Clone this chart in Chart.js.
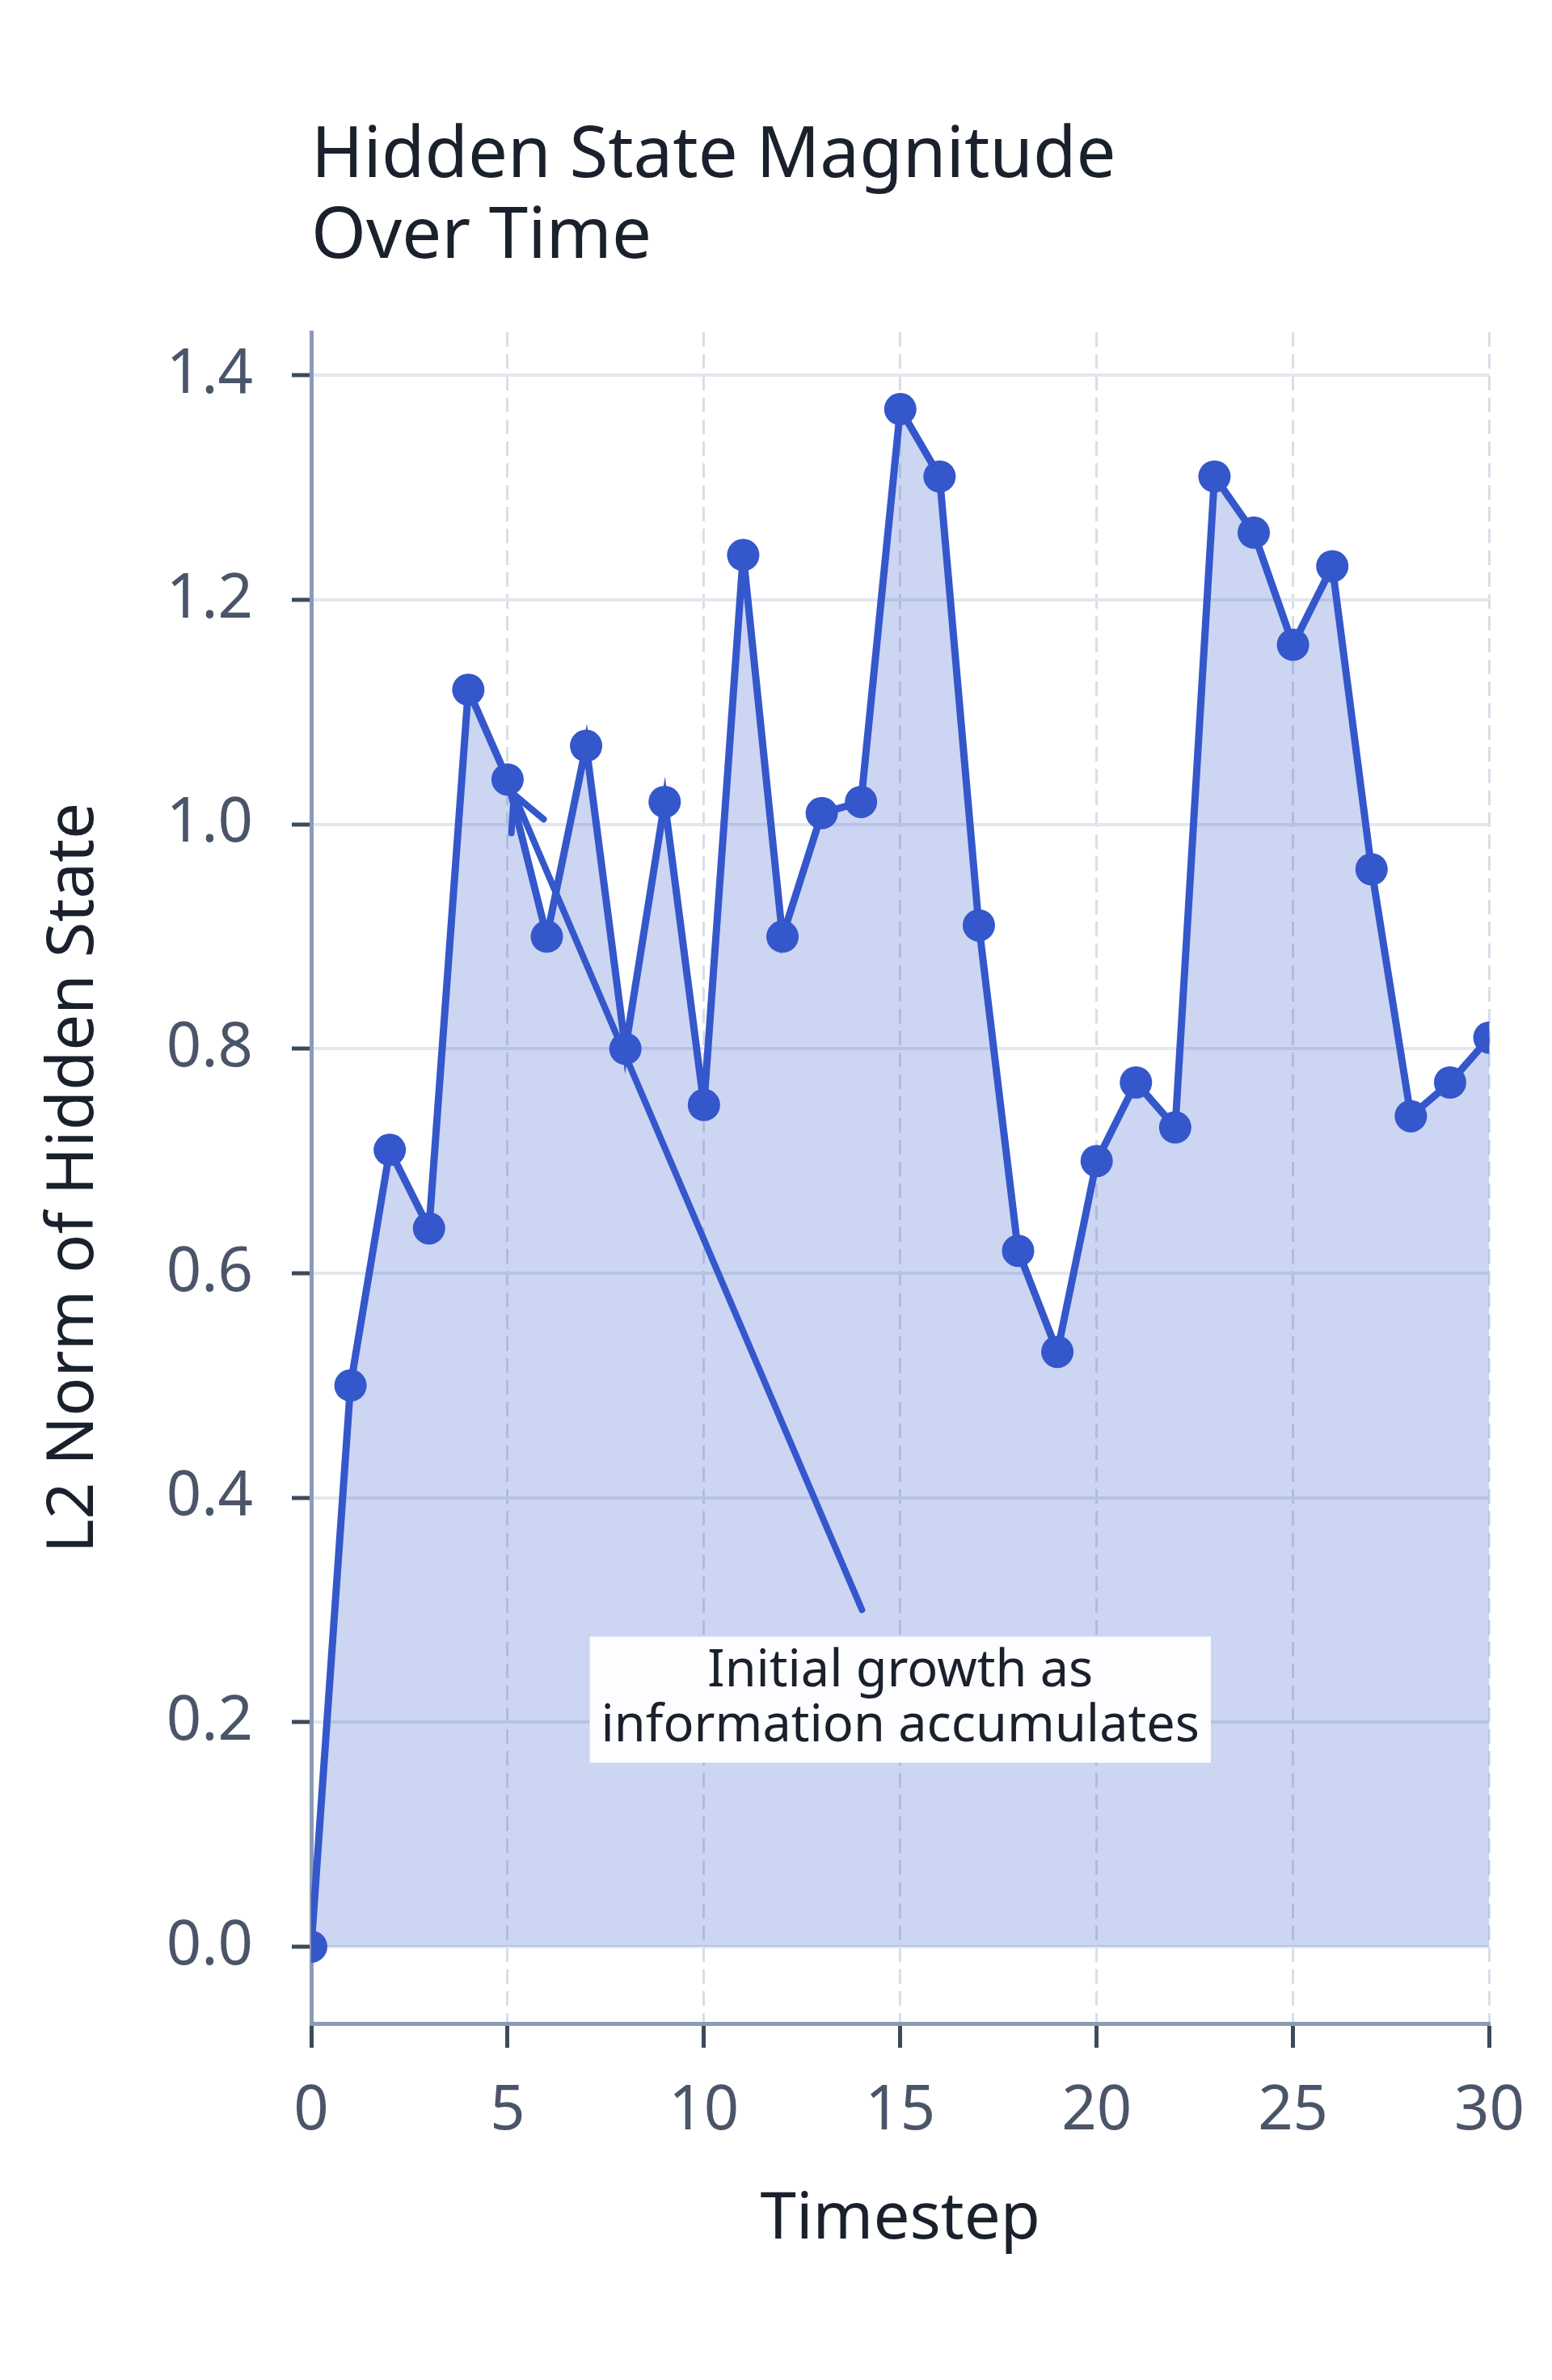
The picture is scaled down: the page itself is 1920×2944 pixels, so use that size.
<!DOCTYPE html>
<html>
<head>
<meta charset="utf-8">
<script src="https://cdn.jsdelivr.net/npm/chart.js@4.4.1/dist/chart.umd.min.js"></script>
<style>
  html, body { margin: 0; padding: 0; background: #ffffff; }
</style>
</head>
<body>
<canvas id="myChart" width="1920" height="2944"></canvas>
<script>
const timesteps = [0, 1, 2, 3, 4, 5, 6, 7, 8, 9, 10, 11, 12, 13, 14, 15, 16, 17, 18, 19, 20, 21, 22, 23, 24, 25, 26, 27, 28, 29, 30];
const hiddenNorm = [0.00, 0.50, 0.71, 0.64, 1.12, 1.04, 0.90, 1.07, 0.80, 1.02, 0.75, 1.24, 0.90, 1.01, 1.02,
                    1.37, 1.31, 0.91, 0.62, 0.53, 0.70, 0.77, 0.73, 1.31, 1.26, 1.16, 1.23, 0.96, 0.74, 0.77, 0.81];
const xTicks = [0, 5, 10, 15, 20, 25, 30];
const yTicks = [0.0, 0.2, 0.4, 0.6, 0.8, 1.0, 1.2, 1.4];
const yMin = -0.0685, yMax = 1.4385;

const noteLines = ['Initial growth as', 'information accumulates'];
const noteTarget = 5;          // timestep the arrow points at
const noteAt = [15, 0.22];     // text centre, in data units

const blue = '#3457cb';
const ink = '#1a202c';
const tickInk = '#4a5568';
const FONT = '"Noto Sans", "DejaVu Sans", sans-serif';

// arrow + boxed text, placed through the scales
const noteArrow = {
    id: 'noteArrow',
    afterDatasetsDraw(chart) {
        const {ctx, scales: {x, y}} = chart;
        const px = x.getPixelForValue(noteTarget);
        const py = y.getPixelForValue(hiddenNorm[noteTarget]);
        const cx = x.getPixelForValue(noteAt[0]);
        const cy = y.getPixelForValue(noteAt[1]);

        ctx.save();
        ctx.font = '63px ' + FONT;
        const lh = 68;
        const w = Math.max(...noteLines.map(l => ctx.measureText(l).width)) + 28;
        const h = lh * noteLines.length + 20;

        // arrow from box edge to the point
        let dx = px - cx, dy = py - cy;
        const len = Math.hypot(dx, dy);
        const ux = dx / len, uy = dy / len;
        const t = Math.min((w / 2) / Math.abs(dx || 1e-9), (h / 2) / Math.abs(dy || 1e-9));
        const sx = cx + dx * t + ux * 36, sy = cy + dy * t + uy * 36;
        const ex = px - ux * 20, ey = py - uy * 20;

        ctx.strokeStyle = blue;
        ctx.lineWidth = 8;
        ctx.lineCap = 'round';
        ctx.beginPath();
        ctx.moveTo(sx, sy);
        ctx.lineTo(ex, ey);
        const ang = Math.atan2(-uy, -ux);
        [-0.47, 0.47].forEach(a => {
            ctx.moveTo(ex, ey);
            ctx.lineTo(ex + 48 * Math.cos(ang + a), ey + 48 * Math.sin(ang + a));
        });
        ctx.stroke();

        ctx.fillStyle = 'rgba(255,255,255,0.96)';
        ctx.fillRect(cx - w / 2, cy - h / 2, w, h);
        ctx.fillStyle = ink;
        ctx.textAlign = 'center';
        ctx.textBaseline = 'middle';
        noteLines.forEach((l, i) => {
            ctx.fillText(l, cx, cy + (i - (noteLines.length - 1) / 2) * lh);
        });
        ctx.restore();
    }
};

new Chart(document.getElementById('myChart'), {
    type: 'line',
    data: {
        datasets: [{
            data: timesteps.map((t, i) => ({x: t, y: hiddenNorm[i]})),
            borderColor: blue,
            borderWidth: 9,
            backgroundColor: 'rgba(51, 88, 204, 0.25)',
            fill: 'origin',
            pointRadius: 20,
            pointBackgroundColor: blue,
            pointBorderWidth: 0,
            tension: 0,
            clip: 0
        }]
    },
    options: {
        responsive: false,
        devicePixelRatio: 1,
        animation: false,
        layout: {
            padding: {left: 0, right: 72, top: 0, bottom: 0}
        },
        plugins: {
            legend: {display: false},
            tooltip: {enabled: false},
            title: {
                display: true,
                text: ['Hidden State Magnitude', 'Over Time'],
                align: 'start',
                fullSize: false,
                color: ink,
                font: {family: FONT, size: 87, weight: 'normal', lineHeight: 100 / 87},
                padding: {top: 144, bottom: 67}
            }
        },
        scales: {
            x: {
                type: 'linear',
                min: 0,
                max: 30,
                afterBuildTicks: s => { s.ticks = xTicks.map(v => ({value: v})); },
                afterFit: s => { s.height = 441; },
                ticks: {
                    color: tickInk,
                    font: {family: FONT, size: 76},
                    padding: 34,
                    maxRotation: 0
                },
                grid: {
                    color: '#d9dee7',
                    lineWidth: 3,
                    tickColor: '#3d4a5c',
                    tickWidth: 5,
                    tickLength: 30
                },
                border: {color: '#8a9bb4', width: 5, dash: [18, 9]},
                title: {
                    display: true,
                    text: 'Timestep',
                    color: ink,
                    font: {family: FONT, size: 80},
                    padding: {top: 0, bottom: 150}
                }
            },
            y: {
                min: yMin,
                max: yMax,
                afterBuildTicks: s => { s.ticks = yTicks.map(v => ({value: v})); },
                afterFit: s => { s.width = 385; },
                ticks: {
                    color: tickInk,
                    font: {family: FONT, size: 76},
                    padding: 48,
                    callback: v => v.toFixed(1)
                },
                grid: {
                    color: '#e3e7ee',
                    lineWidth: 4,
                    tickColor: '#3d4a5c',
                    tickWidth: 5,
                    tickLength: 24
                },
                border: {color: '#8a9bb4', width: 5},
                title: {
                    display: true,
                    text: 'L2 Norm of Hidden State',
                    color: ink,
                    font: {family: FONT, size: 80},
                    padding: {top: 44, bottom: 0}
                }
            }
        }
    },
    plugins: [noteArrow]
});
</script>
</body>
</html>
